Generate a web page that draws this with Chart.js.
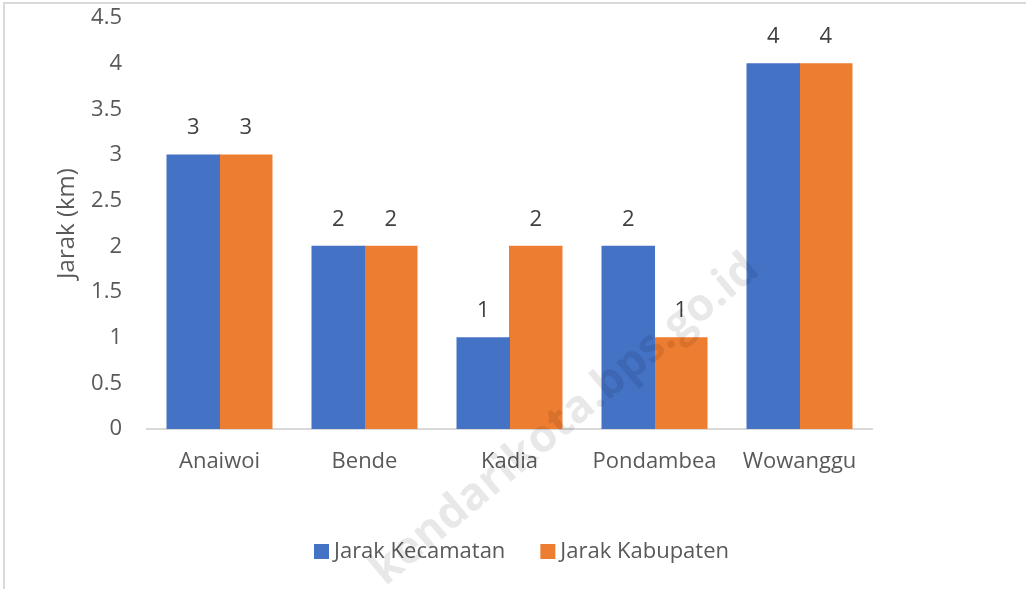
<!DOCTYPE html>
<html>
<head>
<meta charset="utf-8">
<script src="https://cdn.jsdelivr.net/npm/chart.js@4/dist/chart.umd.min.js"></script>
<style>
html,body{margin:0;padding:0;background:#fff;}
#wrap{position:relative;width:1026px;height:589px;}
</style>
</head>
<body>
<div id="wrap"><canvas id="c" width="1026" height="589"></canvas></div>
<script>
const categories = ["Anaiwoi", "Bende", "Kadia", "Pondambea", "Wowanggu"];
const jarakKecamatan = [3, 2, 1, 2, 4];
const jarakKabupaten = [3, 2, 2, 1, 4];
const seriesNames = ["Jarak Kecamatan", "Jarak Kabupaten"];
const seriesColors = ["#4472C4", "#ED7D31"];
const yAxisTitle = "Jarak (km)";
const watermark = "kendarikota.bps.go.id";

const FONT = "'Open Sans', sans-serif";
const TXT = "#595959";

const frame = {
  id: "frame",
  beforeDraw(chart) {
    const ctx = chart.ctx;
    ctx.save();
    ctx.fillStyle = "#fff";
    ctx.fillRect(0, 0, chart.width, chart.height);
    ctx.strokeStyle = "#d9d9d9";
    ctx.lineWidth = 2;
    ctx.beginPath();
    ctx.moveTo(4, 589); ctx.lineTo(4, 3); ctx.lineTo(1026, 3);
    ctx.stroke();
    ctx.restore();
  },
  afterDraw(chart) {
    const ctx = chart.ctx;
    // custom legend
    ctx.save();
    ctx.font = "22px " + FONT;
    ctx.textBaseline = "middle";
    ctx.textAlign = "left";
    const box = 15, gapBT = 5, gapItems = 35;
    const widths = chart.data.datasets.map(d => ctx.measureText(d.label).width);
    const total = widths.reduce((a, w) => a + box + gapBT + w, 0) + gapItems * (widths.length - 1);
    let x = 521.5 - total / 2;
    const yc = 551.5;
    chart.data.datasets.forEach((d, i) => {
      ctx.fillStyle = d.backgroundColor;
      ctx.fillRect(x, yc - box / 2, box, box);
      ctx.fillStyle = TXT;
      ctx.fillText(d.label, x + box + gapBT, yc);
      x += box + gapBT + widths[i] + gapItems;
    });
    ctx.restore();
    // watermark
    ctx.save();
    ctx.translate(565, 420);
    ctx.rotate(-0.695);
    ctx.font = "bold 45px " + FONT;
    ctx.fillStyle = "rgba(0,0,0,0.09)";
    ctx.textAlign = "center";
    ctx.textBaseline = "middle";
    ctx.fillText(watermark, 0, 0);
    ctx.restore();
  }
};

const valueLabels = {
  id: "valueLabels",
  afterDatasetsDraw(chart) {
    const ctx = chart.ctx;
    ctx.save();
    ctx.font = "22px " + FONT;
    ctx.fillStyle = "#404040";
    ctx.textAlign = "center";
    ctx.textBaseline = "middle";
    chart.data.datasets.forEach((ds, i) => {
      const meta = chart.getDatasetMeta(i);
      meta.data.forEach((el, j) => {
        ctx.fillText(String(ds.data[j]), el.x, el.y - 27);
      });
    });
    ctx.restore();
  }
};

new Chart(document.getElementById("c"), {
  type: "bar",
  data: {
    labels: categories,
    datasets: [
      { label: seriesNames[0], data: jarakKecamatan, backgroundColor: seriesColors[0], borderWidth: 0 },
      { label: seriesNames[1], data: jarakKabupaten, backgroundColor: seriesColors[1], borderWidth: 0 }
    ]
  },
  options: {
    responsive: false,
    animation: false,
    devicePixelRatio: 1,
    datasets: { bar: { categoryPercentage: 0.724, barPercentage: 1.0, inflateAmount: 0.5 } },
    layout: { padding: { left: 40, right: 154, top: 18, bottom: 59 } },
    scales: {
      x: {
        grid: { display: false, drawTicks: false },
        border: { display: true, color: "#d9d9d9", width: 2 },
        ticks: { color: TXT, font: { family: FONT, size: 22 }, padding: 20 },
        afterFit(s) { s.height = 101; }
      },
      y: {
        min: 0, max: 4.5,
        grid: { display: false, drawTicks: false },
        border: { display: false },
        ticks: { stepSize: 0.5, color: TXT, font: { family: FONT, size: 22 }, padding: 25,
                 callback: v => String(v) },
        title: { display: true, text: yAxisTitle, color: TXT, font: { family: FONT, size: 24 }, padding: { top: 13, bottom: 0 } },
        afterFit(s) { s.width = 107; s.paddingTop = 0; s.paddingBottom = 0; }
      }
    },
    plugins: {
      legend: { display: false },
      tooltip: { enabled: false }
    }
  },
  plugins: [frame, valueLabels]
});
</script>
</body>
</html>
